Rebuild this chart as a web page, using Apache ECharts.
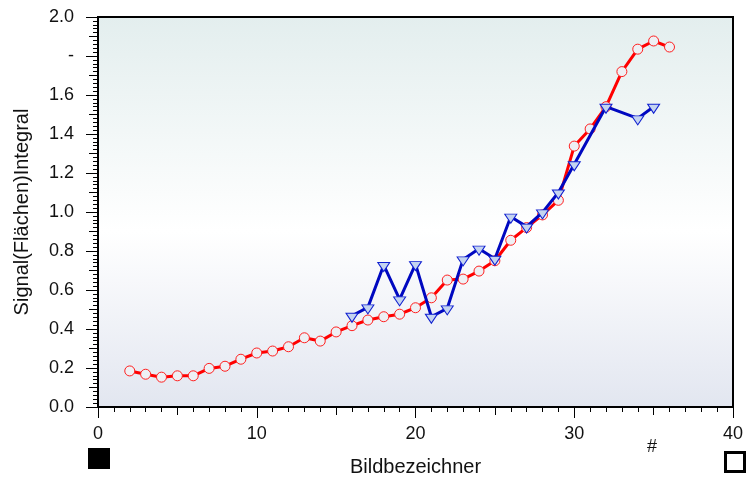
<!DOCTYPE html>
<html>
<head>
<meta charset="utf-8">
<script src="https://cdn.jsdelivr.net/npm/echarts@6/dist/echarts.min.js"></script>
<style>html,body{margin:0;padding:0;background:#fff;}#c{width:746px;height:479px;}</style>
</head>
<body>
<div id="c"></div>
<script>
var redX = [2,3,4,5,6,7,8,9,10,11,12,13,14,15,16,17,18,19,20,21,22,23,24,25,26,27,28,29,30,31,32,33,34,35,36];
var redY = [0.185,0.168,0.153,0.16,0.16,0.198,0.209,0.245,0.277,0.287,0.309,0.355,0.338,0.385,0.417,0.446,0.463,0.476,0.509,0.56,0.651,0.656,0.697,0.75,0.855,0.92,0.985,1.06,1.338,1.426,1.54,1.72,1.835,1.877,1.846];
var blueX = [16,17,18,19,20,21,22,23,24,25,26,27,28,29,30,32,34,35];
var blueY = [0.468,0.511,0.728,0.552,0.733,0.463,0.506,0.757,0.812,0.76,0.976,0.925,0.998,1.10,1.245,1.54,1.48,1.54];
var yTickLabels = {"0.0":"0.0","0.2":"0.2","0.4":"0.4","0.6":"0.6","0.8":"0.8","1.0":"1.0","1.2":"1.2","1.4":"1.4","1.6":"1.6","1.8":"-","2.0":"2.0"};

function pairs(xs, ys){ return xs.map(function(x,i){ return [x, ys[i]]; }); }

var font = 'Liberation Sans, Arial, sans-serif';
var chart = echarts.init(document.getElementById('c'));
chart.setOption({
  animation: false,
  backgroundColor: '#ffffff',
  grid: {
    left: 98, right: 13, top: 17, bottom: 72,
    containLabel: false, outerBoundsMode: 'none',
    show: true, borderColor: '#000', borderWidth: 2,
    backgroundColor: new echarts.graphic.LinearGradient(0,0,0,1,[
      {offset:0,color:'#e3eeee'},{offset:0.55,color:'#ffffff'},{offset:1,color:'#e2e6f0'}])
  },
  xAxis: [{
    type: 'value', min: 0, max: 40, interval: 10,
    name: 'Bildbezeichner', nameLocation: 'middle', nameGap: 50,
    nameTextStyle: {fontFamily: font, fontSize: 20, color: '#111'},
    axisLine: {show: true, lineStyle: {color: '#000', width: 1.5}},
    axisTick: {show: true, length: 11, lineStyle: {color: '#000', width: 1}},
    minorTick: {show: true, splitNumber: 10, length: 5, lineStyle: {color: '#000', width: 1}},
    axisLabel: {margin: 18, fontFamily: font, fontSize: 18, color: '#111'},
    splitLine: {show: false}
  },{
    type: 'value', min: 0, max: 40, interval: 5, position: 'bottom',
    axisLine: {show: false},
    axisTick: {show: true, length: 8, lineStyle: {color: '#000', width: 1}},
    axisLabel: {show: false}, splitLine: {show: false}
  }],
  yAxis: [{
    type: 'value', min: 0, max: 2, interval: 0.2,
    name: 'Signal(Flächen)Integral', nameLocation: 'middle', nameGap: 66,
    nameTextStyle: {fontFamily: font, fontSize: 20, color: '#111'},
    axisLine: {show: true, lineStyle: {color: '#000', width: 1.5}},
    axisTick: {show: true, length: 12, lineStyle: {color: '#000', width: 1}},
    minorTick: {show: true, splitNumber: 10, length: 5, lineStyle: {color: '#000', width: 1}},
    axisLabel: {margin: 24, fontFamily: font, fontSize: 18, color: '#111',
      formatter: function(v){ var k = v.toFixed(1); return yTickLabels[k] !== undefined ? yTickLabels[k] : k; }},
    splitLine: {show: false}
  },{
    type: 'value', min: 0, max: 2, interval: 0.1, position: 'left',
    axisLine: {show: false},
    axisTick: {show: true, length: 9, lineStyle: {color: '#000', width: 1}},
    axisLabel: {show: false}, splitLine: {show: false}
  }],
  graphic: [
    {type: 'rect', left: 88, top: 448, shape: {width: 22, height: 21}, style: {fill: '#000'}},
    {type: 'rect', left: 724, top: 451, shape: {width: 19, height: 19}, style: {fill: '#fff', stroke: '#000', lineWidth: 3}},
    {type: 'text', left: 647, top: 438, style: {text: '#', font: '18px ' + font, fill: '#111'}}
  ],
  series: [{
    type: 'line', data: pairs(redX, redY), xAxisIndex: 0, yAxisIndex: 0,
    symbol: 'circle', symbolSize: 10,
    lineStyle: {color: '#ff0000', width: 3},
    itemStyle: {color: '#eef0f4', borderColor: '#ff2020', borderWidth: 1},
    z: 2
  },{
    type: 'line', data: pairs(blueX, blueY), xAxisIndex: 0, yAxisIndex: 0,
    symbol: 'triangle', symbolSize: [12, 9], symbolRotate: 180, symbolOffset: [0, 2],
    lineStyle: {color: '#0008c0', width: 3},
    itemStyle: {color: '#c4d4f0', borderColor: '#1020d0', borderWidth: 1},
    z: 3
  }]
});
</script>
</body>
</html>
